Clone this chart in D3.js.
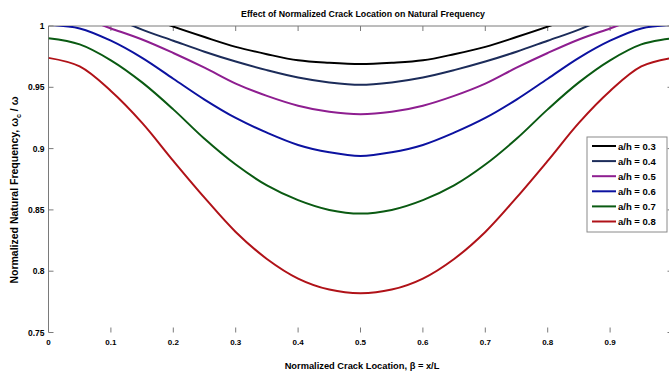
<!DOCTYPE html>
<html>
<head>
<meta charset="utf-8">
<script src="https://cdn.jsdelivr.net/npm/d3@7"></script>
<style>
  body { margin: 0; background: #fff; }
  svg { display: block; font-family: "Liberation Sans", Arial, sans-serif; }
</style>
</head>
<body>
<div id="chart"></div>
<script>
// crack location vs normalized frequency
const beta = [0, 0.05, 0.1, 0.15, 0.2, 0.25, 0.3, 0.35, 0.4, 0.45, 0.5,
              0.55, 0.6, 0.65, 0.7, 0.75, 0.8, 0.85, 0.9, 0.95, 1];
const ratios = ['a/h = 0.3', 'a/h = 0.4', 'a/h = 0.5', 'a/h = 0.6', 'a/h = 0.7', 'a/h = 0.8'];
const ah03 = [1.030, 1.027, 1.019, 1.009, 0.9995, 0.991, 0.983, 0.977, 0.972, 0.970, 0.969,
              0.970, 0.972, 0.977, 0.983, 0.991, 0.9995, 1.009, 1.019, 1.027, 1.030];
const ah04 = [1.022, 1.018, 1.008, 0.997, 0.988, 0.979, 0.971, 0.964, 0.958, 0.954, 0.952,
              0.954, 0.958, 0.964, 0.971, 0.979, 0.988, 0.997, 1.008, 1.018, 1.022];
const ah05 = [1.010, 1.007, 0.998, 0.989, 0.978, 0.966, 0.953, 0.943, 0.935, 0.930, 0.928,
              0.930, 0.935, 0.943, 0.953, 0.966, 0.978, 0.989, 0.998, 1.007, 1.010];
const ah06 = [1.001, 0.998, 0.988, 0.974, 0.957, 0.940, 0.925, 0.913, 0.903, 0.897, 0.894,
              0.897, 0.903, 0.913, 0.925, 0.940, 0.957, 0.974, 0.988, 0.998, 1.001];
const ah07 = [0.990, 0.985, 0.972, 0.954, 0.932, 0.908, 0.887, 0.870, 0.858, 0.850, 0.847,
              0.850, 0.858, 0.870, 0.887, 0.908, 0.932, 0.954, 0.972, 0.985, 0.990];
const ah08 = [0.974, 0.967, 0.947, 0.921, 0.890, 0.860, 0.832, 0.810, 0.794, 0.785, 0.782,
              0.785, 0.794, 0.810, 0.832, 0.860, 0.890, 0.921, 0.947, 0.967, 0.974];
const colors = ['#000000', '#1c2c5a', '#8e1e90', '#0c12a0', '#0a5a12', '#b01218'];
const xTicks = [0, 0.1, 0.2, 0.3, 0.4, 0.5, 0.6, 0.7, 0.8, 0.9];
const yTicks = [0.75, 0.8, 0.85, 0.9, 0.95, 1];

const series = [ah03, ah04, ah05, ah06, ah07, ah08];

const W = 669, H = 376;
const svg = d3.select('#chart').append('svg').attr('width', W).attr('height', H);

const x = d3.scaleLinear().domain([0, 1]).range([48.5, 672.5]);
const y = d3.scaleLinear().domain([0.75, 1]).range([332.5, 26]);

svg.append('defs').append('clipPath').attr('id', 'plot')
  .append('rect').attr('x', x(0)).attr('y', y(1)).attr('width', x(1) - x(0)).attr('height', y(0.75) - y(1));

// frame: left + top lines, no bottom line
const axisCol = '#7a7a7a';
svg.append('line').attr('x1', x(0)).attr('x2', x(0)).attr('y1', y(1)).attr('y2', y(0.75)).attr('stroke', axisCol);
svg.append('line').attr('x1', x(0)).attr('x2', x(1)).attr('y1', y(1)).attr('y2', y(1)).attr('stroke', axisCol);
svg.append('line').attr('x1', x(1) - 0.5).attr('x2', x(1) - 0.5).attr('y1', y(1)).attr('y2', y(0.75)).attr('stroke', axisCol);

// ticks
const tk = 5;
svg.selectAll('.xb').data(xTicks.slice(1)).enter().append('line')
  .attr('x1', d => x(d)).attr('x2', d => x(d)).attr('y1', y(0.75) - tk).attr('y2', y(0.75)).attr('stroke', axisCol);
svg.selectAll('.xt').data(xTicks.slice(1)).enter().append('line')
  .attr('x1', d => x(d)).attr('x2', d => x(d)).attr('y1', y(1)).attr('y2', y(1) + tk).attr('stroke', axisCol);
svg.selectAll('.yl').data(yTicks).enter().append('line')
  .attr('x1', x(0)).attr('x2', x(0) + tk).attr('y1', d => y(d)).attr('y2', d => y(d)).attr('stroke', axisCol);
svg.selectAll('.yr').data(yTicks).enter().append('line')
  .attr('x1', x(1) - tk).attr('x2', x(1)).attr('y1', d => y(d)).attr('y2', d => y(d)).attr('stroke', axisCol);

// tick labels
svg.selectAll('.xlab').data(xTicks).enter().append('text')
  .attr('x', d => x(d)).attr('y', y(0.75) + 12).attr('text-anchor', 'middle')
  .attr('font-size', '8px').attr('font-weight', 'bold').text(d => d);
svg.selectAll('.ylab').data(yTicks).enter().append('text')
  .attr('x', x(0) - 4).attr('y', d => y(d) + 3).attr('text-anchor', 'end')
  .attr('font-size', '8.5px').attr('font-weight', 'bold').text(d => d);

// curves
const line = d3.line().x((d, i) => x(beta[i])).y(d => y(d)).curve(d3.curveCatmullRom);
svg.append('g').attr('clip-path', 'url(#plot)').selectAll('path').data(series).enter().append('path')
  .attr('d', d => line(d)).attr('fill', 'none').attr('stroke', (d, i) => colors[i]).attr('stroke-width', 2);

// titles
svg.append('text').attr('x', 363).attr('y', 17).attr('text-anchor', 'middle')
  .attr('font-size', '8.8px').attr('font-weight', 'bold').text('Effect of Normalized Crack Location on Natural Frequency');
svg.append('text').attr('x', 362).attr('y', 369).attr('text-anchor', 'middle')
  .attr('font-size', '9.3px').attr('font-weight', 'bold').text('Normalized Crack Location, β = x/L');
const yl = svg.append('text').attr('transform', 'translate(18,190) rotate(-90)').attr('text-anchor', 'middle')
  .attr('font-size', '10.5px').attr('font-weight', 'bold');
yl.append('tspan').text('Normalized Natural Frequency, ω');
yl.append('tspan').attr('font-size', '7px').attr('dy', 3).text('c');
yl.append('tspan').attr('dy', -3).text(' / ω');

// legend
const lg = svg.append('g').attr('transform', 'translate(587,137)');
lg.append('rect').attr('width', 80).attr('height', 95).attr('fill', '#fff').attr('stroke', '#8a8a8a');
const row = lg.selectAll('g').data(ratios).enter().append('g')
  .attr('transform', (d, i) => `translate(0,${9 + i * 15.1})`);
row.append('line').attr('x1', 5).attr('x2', 29).attr('stroke', (d, i) => colors[i]).attr('stroke-width', 2);
row.append('text').attr('x', 31).attr('y', 3.5).attr('font-size', '9.5px').attr('font-weight', 'bold').text(d => d);
</script>
</body>
</html>
